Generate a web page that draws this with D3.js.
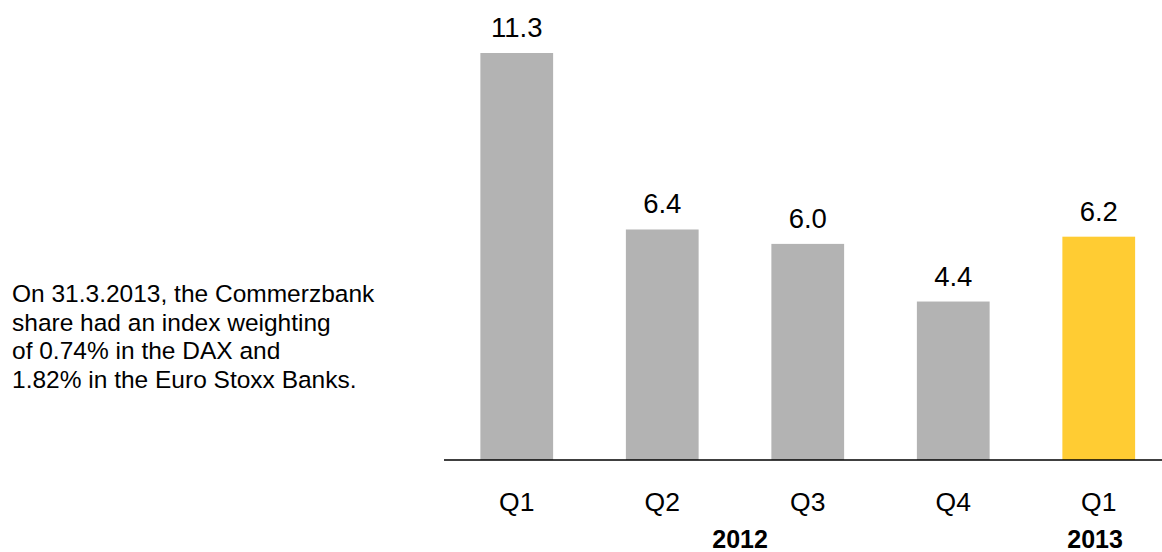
<!DOCTYPE html>
<html>
<head>
<meta charset="utf-8">
<script src="https://cdn.jsdelivr.net/npm/d3@7/dist/d3.min.js"></script>
<style>
  html, body { margin: 0; padding: 0; background: #fff; }
  svg { display: block; font-family: "Liberation Sans", Arial, sans-serif; }
</style>
</head>
<body>
<svg id="chart" width="1162" height="552"></svg>
<script>
// Quarterly values (bar heights and labels)
const quarters = ["Q1", "Q2", "Q3", "Q4", "Q1 "];
const values = [11.3, 6.4, 6.0, 4.4, 6.2];
const tickLabels = ["Q1", "Q2", "Q3", "Q4", "Q1"];
const years = [
  { label: "2012", from: "Q1", to: "Q4", x: 0.51 },
  { label: "2013", from: "Q1 ", to: "Q1 ", x: 0.45 }
];
const highlight = "Q1 ";
const noteLines = [
  "On 31.3.2013, the Commerzbank",
  "share had an index weighting",
  "of 0.74% in the DAX and",
  "1.82% in the Euro Stoxx Banks."
];

const svg = d3.select("#chart");
const baseY = 460;

const x = d3.scaleBand()
  .domain(quarters)
  .range([444, 1171.5])
  .paddingInner(0.5)
  .paddingOuter(0.25);

const y = d3.scaleLinear()
  .domain([0, 11.3])
  .range([baseY, 53]);

// Bars
svg.append("g").selectAll("rect")
  .data(quarters)
  .join("rect")
  .attr("x", d => x(d))
  .attr("y", (d, i) => y(values[i]))
  .attr("width", x.bandwidth())
  .attr("height", (d, i) => baseY - y(values[i]))
  .attr("fill", d => d === highlight ? "#FFCC33" : "#B3B3B3");

// Value labels
svg.append("g").selectAll("text")
  .data(quarters)
  .join("text")
  .attr("x", d => x(d) + x.bandwidth() / 2)
  .attr("y", (d, i) => y(values[i]) - 16)
  .attr("text-anchor", "middle")
  .attr("font-size", 27.5)
  .attr("fill", "#000")
  .text((d, i) => values[i].toFixed(1));

// Baseline axis
const axis = d3.axisBottom(x)
  .tickSize(0)
  .tickPadding(0)
  .tickFormat((d, i) => tickLabels[i]);

const gAxis = svg.append("g")
  .attr("transform", `translate(0,${baseY})`)
  .call(axis);
gAxis.select(".domain").remove();
gAxis.append("line")
  .attr("x1", 444).attr("x2", 1162)
  .attr("y1", 0).attr("y2", 0)
  .attr("stroke", "#000").attr("stroke-width", 1.5);
gAxis.selectAll(".tick text")
  .attr("y", 51)
  .attr("dy", null)
  .attr("font-size", 26.5)
  .attr("font-family", "Liberation Sans, Arial, sans-serif")
  .attr("fill", "#000");

// Year labels
svg.append("g").selectAll("text")
  .data(years)
  .join("text")
  .attr("x", d => {
    const a = x(d.from), b = x(d.to) + x.bandwidth();
    return a + (b - a) * d.x;
  })
  .attr("y", 548)
  .attr("text-anchor", "middle")
  .attr("font-size", 25)
  .attr("font-weight", "bold")
  .attr("fill", "#000")
  .text(d => d.label);

// Side note
svg.append("text")
  .attr("x", 12)
  .attr("y", 302)
  .attr("font-size", 24.5)
  .attr("fill", "#000")
  .selectAll("tspan")
  .data(noteLines)
  .join("tspan")
  .attr("x", 12)
  .attr("dy", (d, i) => i === 0 ? 0 : 28.7)
  .text(d => d);
</script>
</body>
</html>
